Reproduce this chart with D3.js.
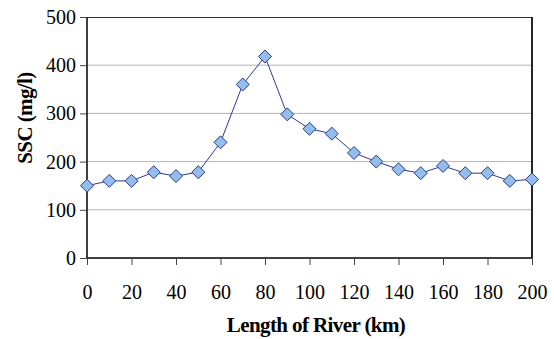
<!DOCTYPE html>
<html>
<head>
<meta charset="utf-8">
<script src="https://cdn.jsdelivr.net/npm/d3@7"></script>
<style>
  body { margin: 0; background: #fff; }
  svg text { font-family: "Liberation Serif", "Times New Roman", serif; }
</style>
</head>
<body>
<script>
// distance along the river (km) and suspended sediment concentration (mg/l)
var distance = [0, 10, 20, 30, 40, 50, 60, 70, 80, 90, 100, 110, 120, 130, 140, 150, 160, 170, 180, 190, 200]
var ssc = [150, 160, 160, 178, 170, 178, 240, 360, 418, 298, 268, 258, 218, 200, 184, 176, 191, 176, 176, 160, 163]
var xTicks = [0, 20, 40, 60, 80, 100, 120, 140, 160, 180, 200]
var yTicks = [0, 100, 200, 300, 400, 500]

var width = 554,
    height = 339
var margin = {top: 17, right: 22, bottom: 81, left: 87}
var w = width - margin.left - margin.right,
    h = height - margin.top - margin.bottom

var svg = d3.select('body').append('svg')
    .attr('width', width)
    .attr('height', height)

var g = svg.append('g')
    .attr('transform', 'translate(' + margin.left + ',' + margin.top + ')')

var x = d3.scaleLinear().domain([0, 200]).range([0, w])
var y = d3.scaleLinear().domain([0, 500]).range([h, 0])

// gridlines
g.selectAll('line.grid')
    .data(yTicks.filter(d => d > 0 && d < 500)).enter()
    .append('line')
    .attr('class', 'grid')
    .attr('x1', 0).attr('x2', w)
    .attr('y1', d => y(d)).attr('y2', d => y(d))
    .attr('stroke', '#b4b4b4')
    .attr('stroke-width', 1)

// plot border (top & right)
g.append('path')
    .attr('d', 'M0,0.5H' + w + 'V' + h)
    .attr('fill', 'none')
    .attr('stroke', '#333')
    .attr('stroke-width', 1)
g.append('line')
    .attr('x1', w).attr('x2', w).attr('y1', 0).attr('y2', h)
    .attr('stroke', '#000').attr('stroke-width', 1.5)

var xAxis = g.append('g')
    .attr('transform', 'translate(0,' + h + ')')
    .call(d3.axisBottom(x).tickValues(xTicks).tickSize(7).tickPadding(20))
var yAxis = g.append('g')
    .call(d3.axisLeft(y).tickValues(yTicks).tickSize(7).tickPadding(4))

;[xAxis, yAxis].forEach(a => {
    a.select('.domain').attr('stroke', '#000').attr('stroke-width', 1.5)
    a.selectAll('.tick line').attr('stroke', '#444')
    a.selectAll('text')
        .attr('font-size', 20)
        .attr('fill', '#000')
})
xAxis.select('.domain').attr('d', 'M0,0H' + w)
yAxis.select('.domain').attr('d', 'M0,' + h + 'V0')

// series line
var line = d3.line()
    .x((d, i) => x(distance[i]))
    .y(d => y(d))

g.append('path')
    .datum(ssc)
    .attr('d', line)
    .attr('fill', 'none')
    .attr('stroke', '#2e3a8c')
    .attr('stroke-width', 1)

// diamond markers
g.selectAll('path.pt')
    .data(ssc).enter()
    .append('path')
    .attr('class', 'pt')
    .attr('d', 'M0,-6.5L6.5,0L0,6.5L-6.5,0Z')
    .attr('transform', (d, i) => 'translate(' + x(distance[i]) + ',' + y(d) + ')')
    .attr('fill', '#93bdea')
    .attr('stroke', '#2e3a8c')
    .attr('stroke-width', 1)

// axis titles
svg.append('text')
    .attr('x', 316)
    .attr('y', 332)
    .attr('text-anchor', 'middle')
    .attr('font-weight', 'bold')
    .attr('font-size', 21)
    .attr('letter-spacing', -0.6)
    .text('Length of River (km)')

svg.append('text')
    .attr('transform', 'translate(32,118) rotate(-90)')
    .attr('text-anchor', 'middle')
    .attr('font-weight', 'bold')
    .attr('font-size', 21)
    .attr('letter-spacing', -0.6)
    .text('SSC (mg/l)')
</script>
</body>
</html>
